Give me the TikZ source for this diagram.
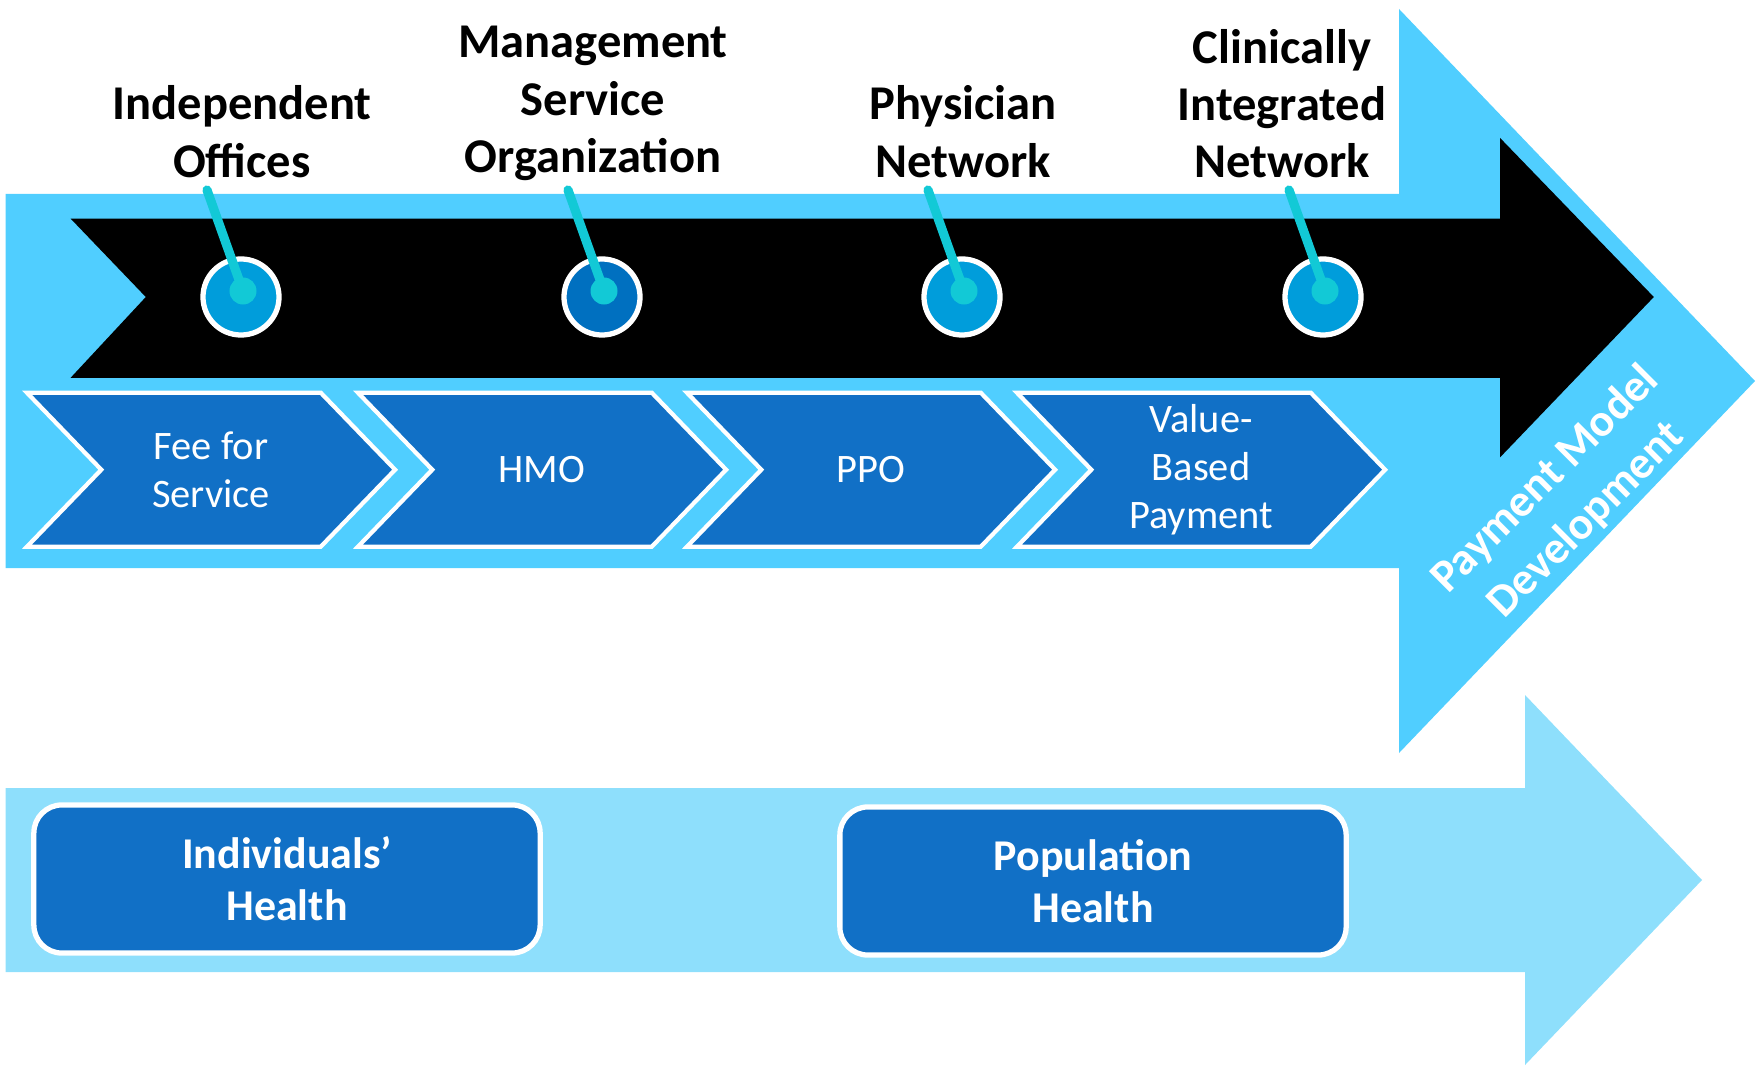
\documentclass[tikz,border=0pt]{standalone}
\usepackage{fontspec}
\setmainfont{Carlito}
\usetikzlibrary{shapes.symbols}
\definecolor{bandblue}{HTML}{50CEFF}
\definecolor{lowband}{HTML}{8EDFFC}
\definecolor{stepblue}{HTML}{1170C6}
\definecolor{ringblue}{HTML}{009DDB}
\definecolor{ringdark}{HTML}{0070C0}
\definecolor{pincolor}{HTML}{12C9D6}
\begin{document}
\begin{tikzpicture}[x=0.01cm,y=-0.01cm,inner sep=0pt,outer sep=0pt,
stepbox/.style={signal,signal to=east,signal from=west,signal pointer angle=92,fill=stepblue,draw=white,line width=1.2pt,minimum width=3.68cm,minimum height=1.54cm,text=white,align=center,font=\fontsize{11.5}{13.7}\selectfont},
ring/.style={circle,draw=white,line width=1.5pt,fill=ringblue,minimum size=0.76cm},
pin/.style={circle,fill=pincolor,minimum size=0.27cm},
stick/.style={draw=pincolor,line width=2.6pt,line cap=round},
tag/.style={align=center,font=\bfseries\fontsize{13.8}{16.3}\selectfont},
goal/.style={rectangle,rounded corners=0.28cm,fill=stepblue,draw=white,line width=1.5pt,minimum width=5.06cm,minimum height=1.48cm,text=white,align=center,font=\bfseries\fontsize{12.5}{14.7}\selectfont}]
\useasboundingbox (0,0) rectangle (1758,1067);

\fill[bandblue] (5.6,194) -- (1399,194) -- (1399,9) -- (1755,381) -- (1399,753) -- (1399,568) -- (5.6,568) -- cycle;
\fill[black] (70.6,218.6) -- (1500,218.6) -- (1500,137.9) -- (1653.8,297) -- (1500,457.4) -- (1500,377.8) -- (70.6,377.8) -- (145.8,297) -- cycle;
\fill[lowband] (5.6,788) -- (1525,788) -- (1525,695) -- (1702,880) -- (1525,1065) -- (1525,972) -- (5.6,972) -- cycle;

\node[tag] (l1) at (242,131.7) {Independent\\Offices};
\node[tag] (l2) at (593,103.5) {Management\\Service\\Organization};
\node[tag] (l3) at (963,131.7) {Physician\\Network};
\node[tag] (l4) at (1282,103.5) {Clinically\\Integrated\\Network};

\node[ring] (r1) at (241,297) {};
\node[ring,fill=ringdark] (r2) at (602,297) {};
\node[ring] (r3) at (962,297) {};
\node[ring] (r4) at (1323,297) {};

\node[pin] (p1) at (243,291) {};
\node[pin] (p2) at (604,291) {};
\node[pin] (p3) at (964,291) {};
\node[pin] (p4) at (1325,291) {};

\coordinate (t1) at (207,190);
\coordinate (t2) at (568,190);
\coordinate (t3) at (928,190);
\coordinate (t4) at (1289,190);

\draw[stick] (p1.center) -- (t1);
\draw[stick] (p2.center) -- (t2);
\draw[stick] (p3.center) -- (t3);
\draw[stick] (p4.center) -- (t4);

\node[stepbox] (s1) at (211,469.7) {Fee for\\Service};
\node[stepbox] (s2) at (542,469.7) {HMO};
\node[stepbox] (s3) at (871,469.7) {PPO};
\node[stepbox] (s4) at (1201,469.7) {Value-\\Based\\Payment};

\node[rotate=45,text=white,align=center,font=\bfseries\fontsize{13}{16.4}\selectfont] (pmd) at (1566,500) {Payment Model\\Development};

\node[goal] (g1) at (287,879) {Individuals’\\Health};
\node[goal] (g2) at (1093,881) {Population\\Health};
\end{tikzpicture}
\end{document}
